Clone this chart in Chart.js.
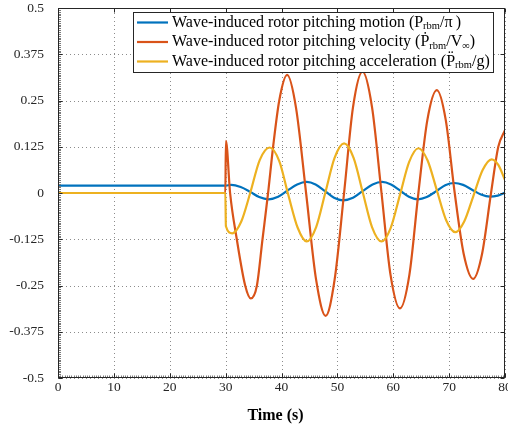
<!DOCTYPE html>
<html>
<head>
<meta charset="utf-8">
<script src="https://cdn.jsdelivr.net/npm/chart.js@4.4.1/dist/chart.umd.min.js"></script>
<style>
    html, body { margin: 0; padding: 0; background: #fff; overflow: hidden; }
    #wrap { position: relative; width: 515px; height: 430px; }
</style>
</head>
<body>
<div id="wrap"><canvas id="myChart"></canvas></div>
<script>
    "use strict";

    // axis ticks
    const xTicks = [0, 10, 20, 30, 40, 50, 60, 70, 80];
    const yTicks = [-0.5, -0.375, -0.25, -0.125, 0, 0.125, 0.25, 0.375, 0.5];
    const yTickLabels = ["-0.5", "-0.375", "-0.25", "-0.125", "0", "0.125", "0.25", "0.375", "0.5"];

    // rotor pitching motion (P_rbm / pi)
    const motionTime = [0, 30, 31.0, 32.7, 34.4, 36.0, 37.7, 39.4, 41.1, 42.8, 44.5, 46.1, 47.8, 49.4, 51.0, 52.8, 54.5,
        56.3, 58.0, 59.6, 61.2, 62.8, 64.4, 66.0, 67.7, 69.3, 70.9, 72.5, 74.1, 75.7, 77.3, 78.7, 80];
    const motionValue = [0.02, 0.02, 0.022, 0.016, 0.003, -0.011, -0.017, -0.010, 0.007, 0.023, 0.030, 0.023, 0.005,
        -0.013, -0.020, -0.013, 0.005, 0.023, 0.030, 0.023, 0.007, -0.010, -0.017, -0.011, 0.005, 0.021, 0.027, 0.022,
        0.009, -0.004, -0.010, -0.007, 0.001];

    // rotor pitching velocity (P'_rbm / V_inf)
    const velocityTime = [0, 29.95, 30.05, 30.8, 32.0, 33.5, 34.5, 35.6, 36.6, 37.6, 38.5, 39.6, 41.0, 42.6, 44.4, 46.2,
        47.9, 49.5, 51.2, 52.8, 54.5, 56.2, 57.9, 59.5, 61.2, 62.9, 64.5, 66.1, 67.8, 69.4, 71.0, 72.6, 74.3, 75.9, 77.5,
        78.8, 80];
    const velocityValue = [0, 0, 0.141, 0, -0.125, -0.25, -0.285, -0.25, -0.125, 0, 0.125, 0.25, 0.319, 0.23, 0,
        -0.235, -0.332, -0.235, 0, 0.232, 0.328, 0.232, 0, -0.22, -0.312, -0.22, 0, 0.197, 0.278, 0.197, 0, -0.164,
        -0.232, -0.164, 0, 0.125, 0.17];

    // rotor pitching acceleration (P''_rbm / g)
    const accelTime = [0, 29.95, 30.05, 31.2, 32.8, 34.4, 36.1, 37.9, 39.6, 41.2, 42.9, 44.5, 46.2, 47.85, 49.5, 51.2,
        52.9, 54.55, 56.2, 57.9, 59.55, 61.2, 62.85, 64.5, 66.15, 67.8, 69.45, 71.1, 72.7, 74.35, 76.0, 77.6, 78.8, 80];
    const accelValue = [0, 0, -0.09, -0.109, -0.077, 0.0, 0.089, 0.123, 0.086, -0.004, -0.094, -0.131, -0.092, 0.0015,
        0.095, 0.134, 0.095, 0.0015, -0.092, -0.131, -0.094, -0.005, 0.084, 0.121, 0.088, 0.0075, -0.073, -0.106,
        -0.077, -0.0075, 0.062, 0.091, 0.076, 0.035];

    const seriesColors = ["#0072BD", "#D95319", "#EDB120"];
    const legendParts = [
        [{t: "Wave-induced rotor pitching motion (P"}, {t: "rbm", sub: true}, {t: "/\u03C0\u2009)"}],
        [{t: "Wave-induced rotor pitching velocity (\u1E56"}, {t: "rbm", sub: true}, {t: "/V"}, {t: "\u221E", sub: true}, {t: ")"}],
        [{t: "Wave-induced rotor pitching acceleration (P\u0308"}, {t: "rbm", sub: true}, {t: "/g)"}]
    ];

    const SERIF = '"Liberation Serif", "Times New Roman", serif';
    const AXIS_COLOR = "#262626";

    function toPoints(times, values) {
        return times.map(function (t, i) {
            return {x: t, y: values[i]};
        });
    }

    function drawRich(ctx, parts, x, y) {
        parts.forEach(function (p) {
            ctx.font = p.sub ? "10.5px " + SERIF : "16px " + SERIF;
            ctx.fillText(p.t, x, p.sub ? y + 4 : y);
            x += ctx.measureText(p.t).width;
        });
        return x;
    }

    function richWidth(ctx, parts) {
        let w = 0;
        parts.forEach(function (p) {
            ctx.font = p.sub ? "10.5px " + SERIF : "16px " + SERIF;
            w += ctx.measureText(p.t).width;
        });
        return w;
    }

    // dotted grid under the lines
    const dottedGrid = {
        id: "dottedGrid",
        beforeDatasetsDraw(chart) {
            const ctx = chart.ctx, a = chart.chartArea;
            const xs = chart.scales.x, ys = chart.scales.y;
            ctx.save();
            ctx.strokeStyle = "#8c8c8c";
            ctx.lineWidth = 1;
            ctx.setLineDash([1, 3]);
            ctx.beginPath();
            xTicks.forEach(function (v) {
                const px = Math.round(xs.getPixelForValue(v)) + 0.5;
                ctx.moveTo(px, a.bottom);
                ctx.lineTo(px, a.top);
            });
            yTicks.forEach(function (v) {
                const py = Math.round(ys.getPixelForValue(v)) + 0.5;
                ctx.moveTo(a.left, py);
                ctx.lineTo(a.right, py);
            });
            ctx.stroke();
            ctx.restore();
        }
    };

    // box, inward ticks and the legend
    const axesBox = {
        id: "axesBox",
        afterDraw(chart) {
            const ctx = chart.ctx, a = chart.chartArea;
            const xs = chart.scales.x, ys = chart.scales.y;
            const L = Math.round(a.left) + 0.5, R = Math.round(a.right) - 0.5;
            const T = Math.round(a.top) + 0.5, B = Math.round(a.bottom) - 0.5;
            ctx.save();

            // minor ticks
            ctx.strokeStyle = "#7a7a7a";
            ctx.lineWidth = 1;
            ctx.beginPath();
            for (let i = 0; i <= 200; i++) {
                const py = Math.round(ys.getPixelForValue(-0.5 + i * 0.005)) + 0.5;
                ctx.moveTo(L, py);
                ctx.lineTo(L + 2.5, py);
            }
            for (let i = 0; i <= 200; i++) {
                const px = Math.round(xs.getPixelForValue(i * 0.4)) + 0.5;
                ctx.moveTo(px, B);
                ctx.lineTo(px, B - 2);
            }
            ctx.stroke();

            // major ticks
            ctx.strokeStyle = AXIS_COLOR;
            ctx.beginPath();
            xTicks.forEach(function (v) {
                const px = Math.round(xs.getPixelForValue(v)) + 0.5;
                ctx.moveTo(px, B); ctx.lineTo(px, B - 4);
                ctx.moveTo(px, T); ctx.lineTo(px, T + 4);
            });
            yTicks.forEach(function (v) {
                const py = Math.round(ys.getPixelForValue(v)) + 0.5;
                ctx.moveTo(L, py); ctx.lineTo(L + 4, py);
                ctx.moveTo(R, py); ctx.lineTo(R - 4, py);
            });
            ctx.stroke();
            ctx.strokeRect(L, T, R - L, B - T);

            // legend
            let maxW = 0;
            legendParts.forEach(function (parts) {
                maxW = Math.max(maxW, richWidth(ctx, parts));
            });
            const boxW = Math.round(4 + 31 + 4 + maxW + 3);
            const boxR = Math.round(a.right) - 12;
            const boxL = boxR - boxW;
            const boxT = Math.round(a.top) + 4;
            const boxH = 60;
            ctx.fillStyle = "#fff";
            ctx.fillRect(boxL, boxT, boxW, boxH);
            ctx.strokeStyle = AXIS_COLOR;
            ctx.strokeRect(boxL + 0.5, boxT + 0.5, boxW, boxH);
            ctx.textBaseline = "middle";
            ctx.textAlign = "left";
            legendParts.forEach(function (parts, i) {
                const cy = boxT + 10.5 + i * 19.5;
                ctx.strokeStyle = seriesColors[i];
                ctx.lineWidth = 2.2;
                ctx.beginPath();
                ctx.moveTo(boxL + 4, cy);
                ctx.lineTo(boxL + 35, cy);
                ctx.stroke();
                ctx.fillStyle = "#000";
                drawRich(ctx, parts, boxL + 39, cy);
            });
            ctx.restore();
        }
    };

    const ctx = document.getElementById("myChart");
    new Chart(ctx, {
        type: "line",
        data: {
            datasets: [
                {
                    label: "Wave-induced rotor pitching motion",
                    data: toPoints(motionTime, motionValue),
                    borderColor: seriesColors[0],
                    order: 3,
                },
                {
                    label: "Wave-induced rotor pitching velocity",
                    data: toPoints(velocityTime, velocityValue),
                    borderColor: seriesColors[1],
                    order: 2,
                },
                {
                    label: "Wave-induced rotor pitching acceleration",
                    data: toPoints(accelTime, accelValue),
                    borderColor: seriesColors[2],
                    order: 1,
                },
            ],
        },
        options: {
            responsive: true,
            maintainAspectRatio: false,
            animation: false,
            layout: {
                padding: {top: 0, right: 10, bottom: 0, left: 0},
            },
            elements: {
                point: {radius: 0},
                line: {
                    borderWidth: 2.2,
                    tension: 0.4,
                    cubicInterpolationMode: "monotone",
                    fill: false,
                },
            },
            plugins: {
                legend: {display: false},
                tooltip: {enabled: false},
            },
            scales: {
                x: {
                    type: "linear",
                    min: 0,
                    max: 80,
                    afterBuildTicks: function (scale) {
                        scale.ticks = xTicks.map(function (v) { return {value: v}; });
                    },
                    afterFit: function (scale) {
                        scale.height = 52;
                    },
                    grid: {display: false, drawTicks: false},
                    border: {display: false},
                    ticks: {
                        padding: 1,
                        maxRotation: 0,
                        color: AXIS_COLOR,
                        font: {family: SERIF, size: 13.5},
                    },
                    title: {
                        display: true,
                        text: "Time (s)   ",
                        color: "#000",
                        font: {family: SERIF, size: 16, weight: "bold"},
                        padding: {top: 4, bottom: 5},
                    },
                },
                y: {
                    type: "linear",
                    min: -0.5,
                    max: 0.5,
                    afterBuildTicks: function (scale) {
                        scale.ticks = yTicks.map(function (v) { return {value: v}; });
                    },
                    afterFit: function (scale) {
                        scale.width = 58;
                        scale.paddingTop = 8;
                        scale.paddingBottom = 8;
                    },
                    grid: {display: false, drawTicks: false},
                    border: {display: false},
                    ticks: {
                        padding: 14,
                        color: AXIS_COLOR,
                        font: {family: SERIF, size: 13.5},
                        callback: function (value) {
                            return yTickLabels[yTicks.indexOf(value)];
                        },
                    },
                },
            },
        },
        plugins: [dottedGrid, axesBox],
    });
</script>
</body>
</html>
